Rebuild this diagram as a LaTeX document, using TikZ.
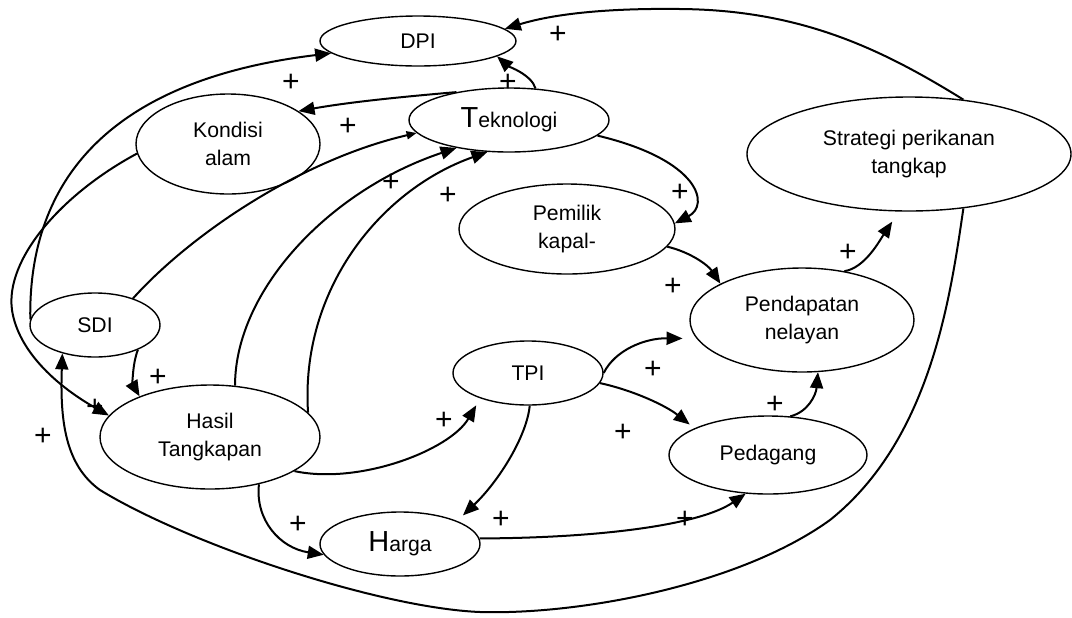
\documentclass[tikz,border=0pt]{standalone}
\usepackage{fontspec}
\setmainfont{Liberation Sans}
\usetikzlibrary{shapes.geometric,arrows.meta}

\begin{document}
\begin{tikzpicture}[x=0.5pt,y=-0.5pt,
  var/.style={draw, ellipse, line width=0.7pt, inner sep=0pt, align=center, font=\fontsize{10.6}{14}\selectfont},
  link/.style={line width=1pt, -{Triangle[length=8pt,width=6.5pt]}},
  plus/.style={inner sep=0pt, font=\fontsize{15}{15}\selectfont}]
\useasboundingbox (0,0) rectangle (1072,617);

% Top row
\node[var, minimum width=98pt, minimum height=25pt] (dpi) at (418,41) {DPI};
\node[var, minimum width=92pt, minimum height=50pt] (kon) at (228,144) {Kondisi\\alam};
\node[var, minimum width=100pt, minimum height=32pt] (tek) at (509,120) {{\fontsize{14.5}{14}\selectfont T}eknologi};
\node[var, minimum width=162pt, minimum height=57pt] (str) at (909,154) {Strategi perikanan\\tangkap};

% Middle
\node[var, minimum width=108pt, minimum height=45pt] (pem) at (567,229) {Pemilik\\kapal-};
\node[var, minimum width=112pt, minimum height=52pt] (pen) at (802,320) {Pendapatan\\nelayan};
\node[var, minimum width=65pt, minimum height=32pt] (sdi) at (95,325) {SDI};
\node[var, minimum width=75pt, minimum height=32pt] (tpi) at (528,373) {TPI};

% Bottom
\node[var, minimum width=110pt, minimum height=52pt] (has) at (210,437) {Hasil\\Tangkapan};
\node[var, minimum width=99pt, minimum height=39pt] (ped) at (768,455) {Pedagang};
\node[var, minimum width=80pt, minimum height=32pt] (har) at (400,544) {{\fontsize{14.5}{14}\selectfont H}arga};

% Signs
\node[plus] (p1) at (558,35) {+};
\node[plus] (p2) at (291,83) {+};
\node[plus] (p3) at (508,83) {+};
\node[plus] (p4) at (348,127) {+};
\node[plus] (p5) at (391,183) {+};
\node[plus] (p6) at (448,196) {+};
\node[plus] (p7) at (680,193) {+};
\node[plus] (p8) at (673,287) {+};
\node[plus] (p9) at (848,253) {+};
\node[plus] (p10) at (158,378) {+};
\node[plus] (p11) at (43,437) {+};
\node[plus] (p12) at (95,408) {+};
\node[plus] (p13) at (444,421) {+};
\node[plus] (p14) at (653,370) {+};
\node[plus] (p15) at (623,433) {+};
\node[plus] (p16) at (775,405) {+};
\node[plus] (p17) at (298,525) {+};
\node[plus] (p18) at (501,520) {+};
\node[plus] (p19) at (685,520) {+};

% Arrows
\draw[link] (str.45) .. controls (880,48) and (800,10) .. (680,9) .. controls (600,8) and (550,15) .. (dpi.8);
\draw[link] (tek.50) .. controls (532,75) and (508,66) .. (dpi.-11);
\draw[link] (tek.152) .. controls (400,97) and (350,102) .. (kon.25);
\draw[link] (sdi.175) .. controls (28,180) and (110,80) .. (dpi.188);
\draw[link] (kon.186) .. controls (60,195) and (5,260) .. (12,310) .. controls (18,350) and (55,385) .. (has.168);
\draw[link] (sdi.-30) .. controls (132,365) and (133,385) .. (has.150);
\draw[link] (str.-45) .. controls (950,300) and (930,440) .. (830,520) .. controls (740,585) and (580,615) .. (480,612) .. controls (380,608) and (190,545) .. (100,490) .. controls (65,465) and (60,420) .. (sdi.221);
\draw[link, -{Triangle[length=5pt,width=4pt]}] (sdi.35) .. controls (190,235) and (300,160) .. (tek.188);
\draw[link] (has.64) .. controls (235,290) and (330,190) .. (tek.208);
\draw[link] (has.14) .. controls (300,290) and (380,190) .. (tek.236);
\draw[link] (tek.-10) .. controls (700,160) and (710,205) .. (pem.3);
\draw[link] (pem.-10) .. controls (690,252) and (708,265) .. (pen.156);
\draw[link, shorten >=6pt] (pen.49) .. controls (865,268) and (880,240) .. (str.260);
\draw[link, shorten >=4pt] (has.-22) .. controls (360,485) and (450,450) .. (tpi.208);
\draw[link, shorten >=4pt] (tpi.-87) .. controls (527,435) and (500,480) .. (har.22);
\draw[link] (has.-44) .. controls (255,520) and (280,548) .. (har.188);
\draw[link] (har.4) .. controls (600,538) and (700,525) .. (ped.240);
\draw[link, shorten >=7pt] (tpi.0) .. controls (615,350) and (645,338) .. (pen.190);
\draw[link, shorten >=3pt] (tpi.-8) .. controls (632,390) and (665,405) .. (ped.160);
\draw[link] (ped.60) .. controls (808,412) and (816,395) .. (pen.-73);
\end{tikzpicture}
\end{document}
